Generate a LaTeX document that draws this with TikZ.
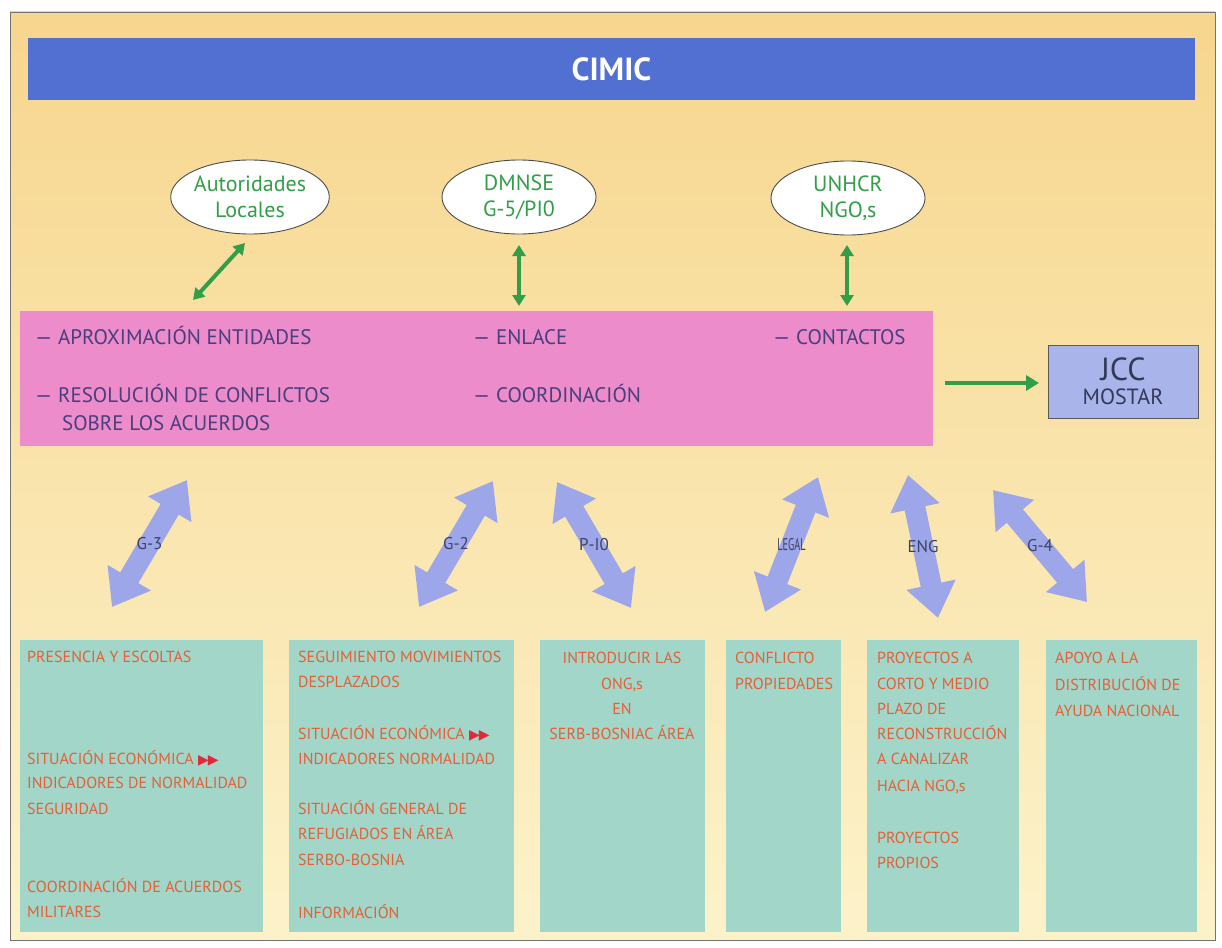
\documentclass[tikz,border=0pt]{standalone}
\usepackage{fontspec}
\setmainfont{PT Sans}
\newfontfamily\dejavu{DejaVu Sans}
\usetikzlibrary{shapes.geometric,arrows.meta}
\definecolor{bgtop}{RGB}{247,214,142}
\definecolor{bgmid}{RGB}{250,231,170}
\definecolor{bgbot}{RGB}{252,242,202}
\definecolor{bannerblue}{RGB}{82,112,210}
\definecolor{pinkbox}{RGB}{236,140,202}
\definecolor{pinktext}{RGB}{74,62,126}
\definecolor{tealbox}{RGB}{162,214,200}
\definecolor{boxtext}{RGB}{228,96,56}
\definecolor{tri}{RGB}{228,40,60}
\definecolor{gr}{RGB}{50,158,72}
\definecolor{fatblue}{RGB}{156,166,232}
\definecolor{lbltext}{RGB}{60,66,100}
\definecolor{jccfill}{RGB}{169,181,234}
\definecolor{jcctext}{RGB}{50,56,85}
\newcommand{\tris}{{\dejavu\color{tri}\fontsize{14}{14}\selectfont\ ▶\kern-1pt▶}}
\begin{document}
\begin{tikzpicture}[x=1pt,y=-1pt,
  banner/.style={fill=bannerblue, text=white, font=\fontsize{32}{34}\selectfont\bfseries, minimum width=1167pt, minimum height=62pt, inner sep=0pt},
  ell/.style={ellipse, draw=black!70, line width=0.9pt, fill=white, text=gr, minimum width=154pt, minimum height=74pt, inner sep=0pt, align=center, font=\fontsize{22}{26}\selectfont},
  pinkrect/.style={fill=pinkbox, minimum width=913pt, minimum height=135pt, inner sep=0pt},
  ptxt/.style={anchor=base west, text=pinktext, inner sep=0pt, font=\fontsize{21}{22}\selectfont},
  jccbox/.style={fill=jccfill, draw=black!65, line width=1pt, minimum width=150pt, minimum height=73pt, inner sep=0pt, align=center, text=jcctext, font=\fontsize{22}{24}\selectfont},
  tbox/.style={fill=tealbox, minimum height=292pt, inner sep=0pt},
  btxt/.style={anchor=base west, text=boxtext, inner sep=0pt, font=\fontsize{16}{17}\selectfont},
  btxtc/.style={anchor=base, text=boxtext, inner sep=0pt, font=\fontsize{16}{17}\selectfont},
  garrow/.style={draw=gr, line width=4pt, {Triangle[length=11pt,width=13pt]}-{Triangle[length=11pt,width=13pt]}},
  garrowone/.style={draw=gr, line width=4.5pt, -{Triangle[length=13pt,width=15pt]}},
  fat/.style={draw=fatblue, line width=21pt, {Triangle[length=34pt,width=48pt]}-{Triangle[length=34pt,width=48pt]}},
  lbl/.style={text=lbltext, inner sep=0pt, font=\fontsize{17}{17}\selectfont}
]
\useasboundingbox (0,0) rectangle (1222,947);
\fill[white] (0,0) rectangle (1222,947);
\shade[top color=bgtop, middle color=bgmid, bottom color=bgbot] (10,12) rectangle (1215,940);
\draw[black!55, line width=0.8pt] (10,12) rectangle (1215,940);

% banner
\node[banner] (cimic) at (611.5,69) {CIMIC};

% ellipses
\node[ell] (al) at (250,197) {Autoridades\\Locales};
\node[ell] (dm) at (519,197) {DMNSE\\G-5/PI0};
\node[ell] (un) at (848,198) {UNHCR\\NGO,s};

% pink box
\node[pinkrect] (pk) at (476.5,378.5) {};
\node[ptxt] (p1) at (35,344) {— APROXIMACIÓN ENTIDADES};
\node[ptxt] (p2) at (35,402) {— RESOLUCIÓN DE CONFLICTOS};
\node[ptxt] (p3) at (62,430) {SOBRE LOS ACUERDOS};
\node[ptxt] (p4) at (473,344) {— ENLACE};
\node[ptxt] (p5) at (473,402) {— COORDINACIÓN};
\node[ptxt] (p6) at (773,344) {— CONTACTOS};

% JCC
\node[jccbox] (jcc) at (1123,381.5) {{\fontsize{32}{32}\selectfont JCC}\\MOSTAR};

% green arrows
\coordinate (a1t) at (245,243); \coordinate (a1b) at (193,300);
\coordinate (a2t) at (519,245); \coordinate (a2b) at (519,306);
\coordinate (a3t) at (847,245); \coordinate (a3b) at (847,306);
\coordinate (jin) at (1039,383); \coordinate (jout) at (945,383);
\draw[garrow] (a1t) -- (a1b);
\draw[garrow] (a2t) -- (a2b);
\draw[garrow] (a3t) -- (a3b);
\draw[garrowone] (jout) -- (jin);

% bottom boxes
\node[tbox, minimum width=243pt] (b1) at (141.5,786) {};
\node[tbox, minimum width=225pt] (b2) at (401.5,786) {};
\node[tbox, minimum width=165pt] (b3) at (622.5,786) {};
\node[tbox, minimum width=115pt] (b4) at (783.5,786) {};
\node[tbox, minimum width=152pt] (b5) at (943,786) {};
\node[tbox, minimum width=151pt] (b6) at (1121.5,786) {};

% fat arrows
\coordinate (f1t) at (187,480); \coordinate (f1b) at (112,607);
\coordinate (f2t) at (493,481); \coordinate (f2b) at (419,607);
\coordinate (f3t) at (557,482); \coordinate (f3b) at (631,608);
\coordinate (f4t) at (818,477); \coordinate (f4b) at (765,612);
\coordinate (f5t) at (908,475); \coordinate (f5b) at (938,618);
\coordinate (f6t) at (993,490); \coordinate (f6b) at (1087,602);
\draw[fat] (f1t) -- node[lbl] (l1) {G-3} (f1b);
\draw[fat] (f2t) -- node[lbl] (l2) {G-2} (f2b);
\draw[fat] (f3t) -- node[lbl] (l3) {P-I0} (f3b);
\draw[fat] (f4t) -- node[lbl, xscale=0.6] (l4) {LEGAL} (f4b);
\draw[fat] (f5t) -- node[lbl] (l5) {ENG} (f5b);
\draw[fat] (f6t) -- node[lbl] (l6) {G-4} (f6b);

% box texts
\foreach \t/\yy [count=\i] in {{PRESENCIA Y ESCOLTAS}/662, {SITUACIÓN ECONÓMICA\tris}/764, {INDICADORES DE NORMALIDAD}/788, {SEGURIDAD}/814, {COORDINACIÓN DE ACUERDOS}/892, {MILITARES}/917}
  \node[btxt] (t1-\i) at (27,\yy) {\t};
\foreach \t/\yy [count=\i] in {{SEGUIMIENTO MOVIMIENTOS}/662, {DESPLAZADOS}/687, {SITUACIÓN ECONÓMICA\tris}/739, {INDICADORES NORMALIDAD}/764, {SITUACIÓN GENERAL DE}/814, {REFUGIADOS EN ÁREA}/839, {SERBO-BOSNIA}/865, {INFORMACIÓN}/918}
  \node[btxt] (t2-\i) at (298,\yy) {\t};
\foreach \t/\yy [count=\i] in {{INTRODUCIR LAS}/663, {ONG,s}/689, {EN}/714, {SERB-BOSNIAC ÁREA}/739}
  \node[btxtc] (t3-\i) at (622,\yy) {\t};
\foreach \t/\yy [count=\i] in {{CONFLICTO}/663, {PROPIEDADES}/689}
  \node[btxt] (t4-\i) at (735,\yy) {\t};
\foreach \t/\yy [count=\i] in {{PROYECTOS A}/663, {CORTO Y MEDIO}/689, {PLAZO DE}/714, {RECONSTRUCCIÓN}/739, {A CANALIZAR}/764, {HACIA NGO,s}/791, {PROYECTOS}/843, {PROPIOS}/868}
  \node[btxt] (t5-\i) at (877,\yy) {\t};
\foreach \t/\yy [count=\i] in {{APOYO A LA}/663, {DISTRIBUCIÓN DE}/690, {AYUDA NACIONAL}/716}
  \node[btxt] (t6-\i) at (1055,\yy) {\t};
\end{tikzpicture}
\end{document}
